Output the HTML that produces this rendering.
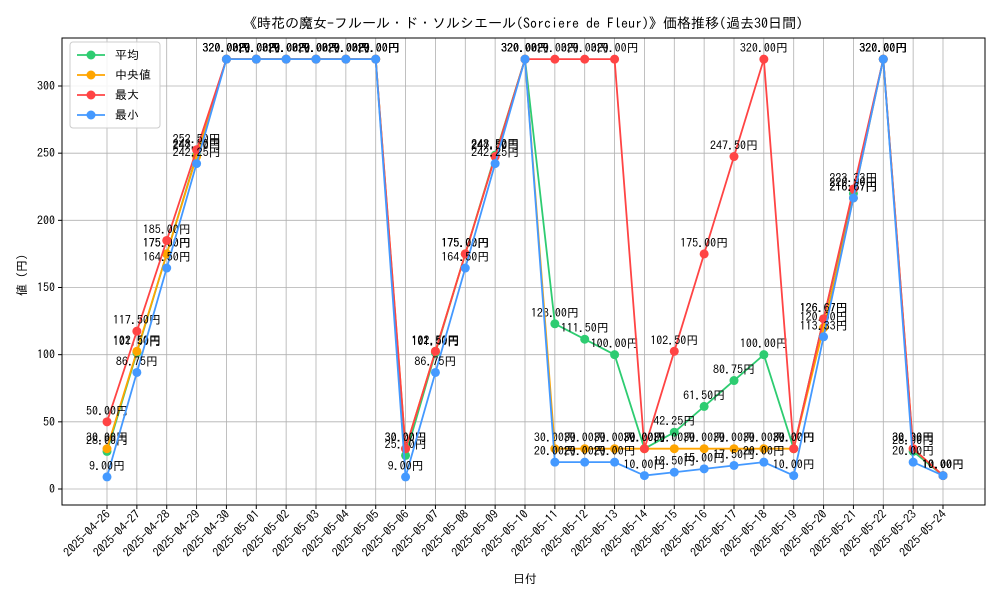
<!DOCTYPE html>
<html><head><meta charset="utf-8"><style>
body{margin:0;background:#fff}
svg text{font-family:"IPAGothic","Liberation Sans","Noto Sans CJK JP",sans-serif}
</style></head><body>
<svg id="c" width="1000" height="600"></svg>
<script>
const dates=["2025-04-26","2025-04-27","2025-04-28","2025-04-29","2025-04-30","2025-05-01","2025-05-02","2025-05-03","2025-05-04","2025-05-05","2025-05-06","2025-05-07","2025-05-08","2025-05-09","2025-05-10","2025-05-11","2025-05-12","2025-05-13","2025-05-14","2025-05-15","2025-05-16","2025-05-17","2025-05-18","2025-05-19","2025-05-20","2025-05-21","2025-05-22","2025-05-23","2025-05-24"];
const avgVals=[28,101.5,175,248.5,320,320,320,320,320,320,25,101.5,175,248.5,320,123,111.5,100,30,42.25,61.5,80.75,100,30,126.67,220,320,28,10];
const medVals=[30,102.5,175,247.5,320,320,320,320,320,320,30,102.5,175,247.5,320,30,30,30,30,30,30,30,30,30,120,216.67,320,30,10];
const maxVals=[50,117.5,185,252.5,320,320,320,320,320,320,30,102.5,175,247.5,320,320,320,320,30,102.5,175,247.5,320,30,126.67,223.33,320,30,10];
const minVals=[9,86.75,164.5,242.25,320,320,320,320,320,320,9,86.75,164.5,242.25,320,20,20,20,10,12.5,15,17.5,20,10,113.33,216.67,320,20,10];
const yTicks=[0,50,100,150,200,250,300];
const seriesNames=["平均","中央値","最大","最小"];
const colors=["#2ecc71","#ffa500","#ff4444","#4499ff"];

const NS="http://www.w3.org/2000/svg",svg=document.getElementById('c');
const L=62,R=985,T=38,B=505;
const xs=i=>107+i*(943-107)/(dates.length-1);
const ys=v=>489-v*(489-86)/300;
function mk(t,a,p){const e=document.createElementNS(NS,t);for(const k in a)e.setAttribute(k,a[k]);(p||svg).appendChild(e);return e;}
const grid=mk('g',{});


yTicks.forEach(v=>{
 mk('line',{x1:L,x2:R,y1:ys(v),y2:ys(v),stroke:'#b0b0b0','stroke-width':0.8},grid);
 mk('line',{x1:L-4,x2:L,y1:ys(v),y2:ys(v),stroke:'#000'},grid);
 const t=mk('text',{x:L-7,y:ys(v)+4,'text-anchor':'end','font-size':12},grid);t.textContent=v;
 
 
});
dates.forEach((d,i)=>{
 mk('line',{x1:xs(i),x2:xs(i),y1:T,y2:B,stroke:'#b0b0b0','stroke-width':0.8},grid);
 mk('line',{x1:xs(i),x2:xs(i),y1:B,y2:B+4,stroke:'#000'},grid);
 const t=mk('text',{x:xs(i)+4,y:B+10,'text-anchor':'end','font-size':12,transform:`rotate(-45 ${xs(i)+4} ${B+10})`},grid);t.textContent=d;
 
 
});
const fr=mk('rect',{x:L,y:T,width:R-L,height:B-T,fill:'none',stroke:'#000','stroke-width':1});


[avgVals,medVals,maxVals,minVals].forEach((vals,s)=>{
 const g=mk('g',{});
 
 
 mk('polyline',{points:vals.map((v,i)=>xs(i)+','+ys(v)).join(' '),fill:'none',stroke:colors[s],'stroke-width':1.8},g);
 vals.forEach((v,i)=>{
  const c=mk('circle',{cx:xs(i),cy:ys(v),r:4.5,fill:colors[s]},g);
  
  
  const t=mk('text',{x:xs(i),y:ys(v)-7,'text-anchor':'middle','font-size':12},g);t.textContent=v.toFixed(2)+'円';
  
  
 });
});
const lg=mk('g',{});


mk('rect',{x:70,y:42,width:90,height:86,rx:3,fill:'#fff',stroke:'#ccc','fill-opacity':0.85},lg);
seriesNames.forEach((n,s)=>{
 const y=55+s*20;
 const e=mk('g',{},lg);
 
 
 mk('line',{x1:77,x2:105,y1:y,y2:y,stroke:colors[s],'stroke-width':1.8},e);
 mk('circle',{cx:91,cy:y,r:4.5,fill:colors[s]},e);
 const t=mk('text',{x:115,y:y+4,'font-size':12},e);t.textContent=n;
});
let t=mk('text',{x:523,y:28,'text-anchor':'middle','font-size':14});t.textContent='《時花の魔女-フルール・ド・ソルシエール(Sorciere de Fleur)》価格推移(過去30日間)';


t=mk('text',{x:525,y:583,'text-anchor':'middle','font-size':12});t.textContent='日付';


t=mk('text',{x:26,y:272,'text-anchor':'middle','font-size':12,transform:'rotate(-90 26 272)'});t.textContent='値（円）';


</script>
</body></html>
